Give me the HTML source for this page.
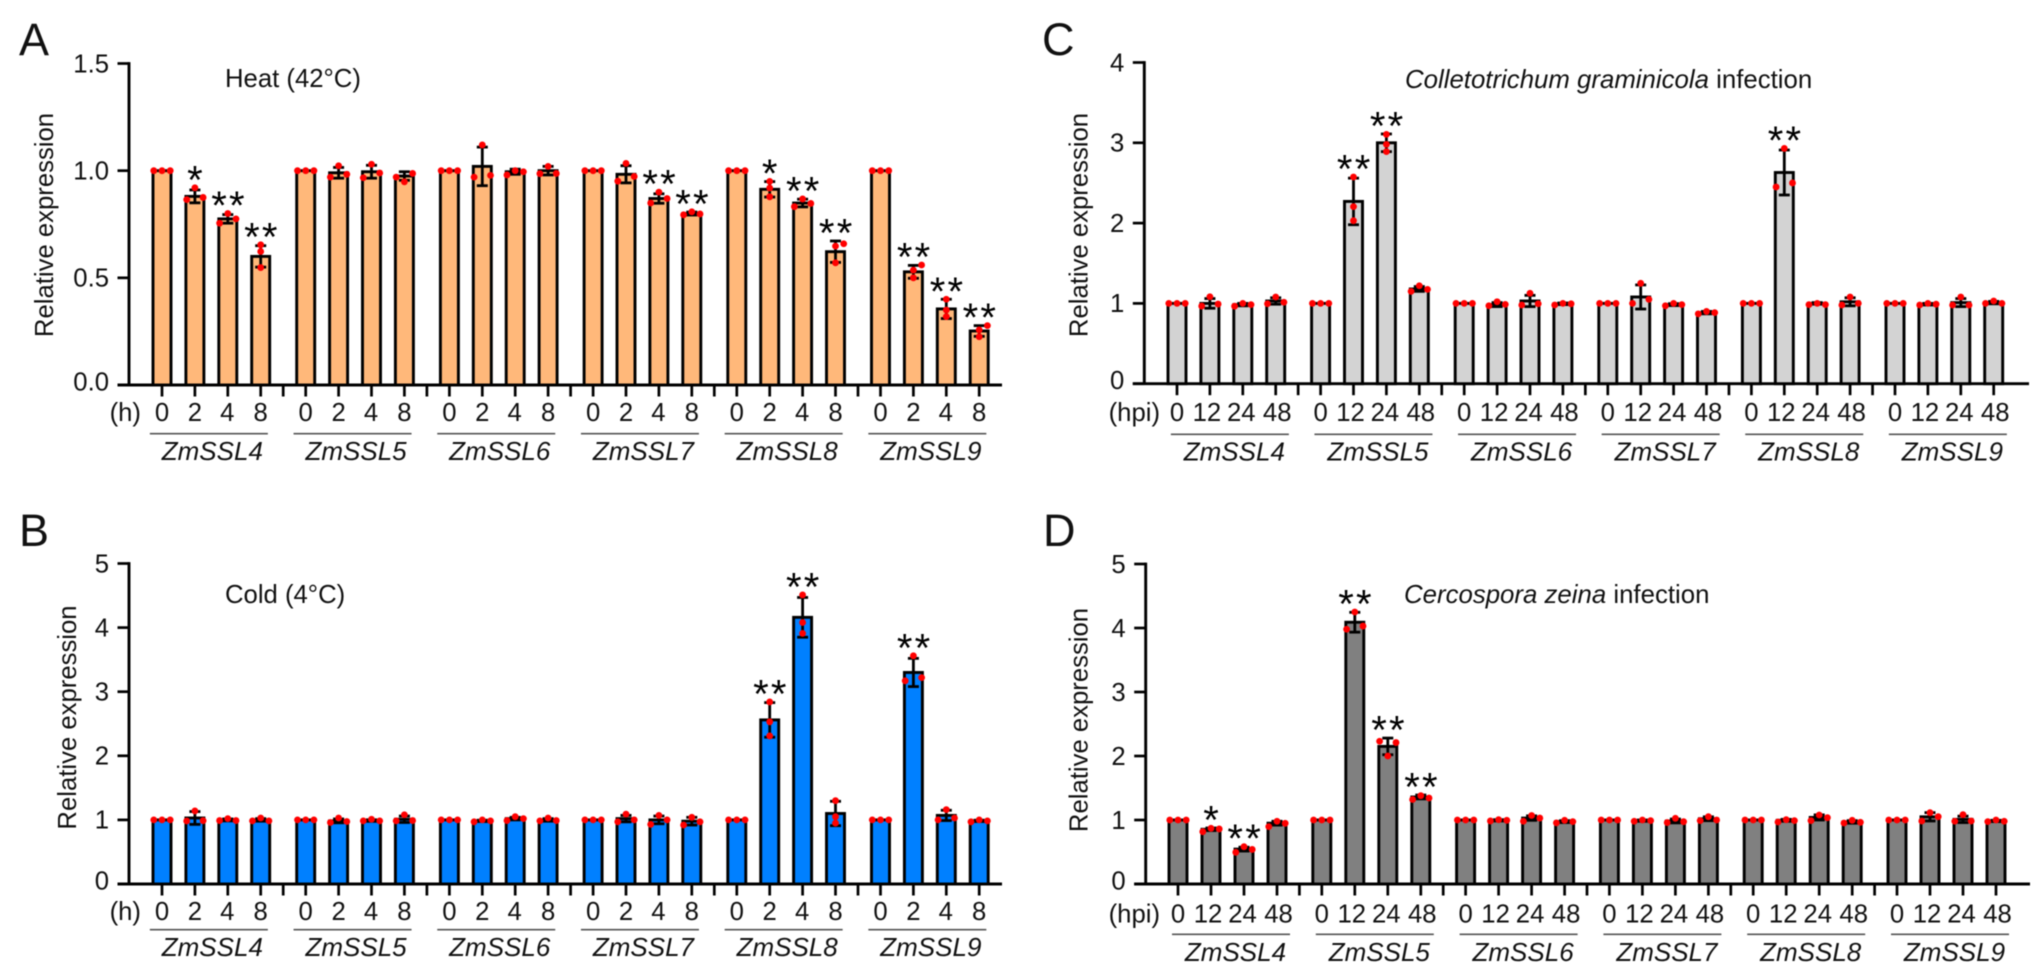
<!DOCTYPE html>
<html lang="en">
<head>
<meta charset="utf-8">
<title>Relative expression of ZmSSL genes under stress</title>
<style>
html,body{margin:0;padding:0;background:#fff;}
svg{display:block;font-family:"Liberation Sans",Arial,sans-serif;fill:#111;filter:blur(0.4px);}
</style>
</head>
<body>
<svg id="figure" xmlns="http://www.w3.org/2000/svg" width="2040" height="974" viewBox="0 0 2040 974">
  <rect x="0" y="0" width="2040" height="974" fill="#fff"/>
  <text x="19" y="55" font-size="45">A</text>
  <text x="19" y="546" font-size="45">B</text>
  <text x="1042" y="55" font-size="45">C</text>
  <text x="1043" y="546" font-size="45">D</text>
  <text x="225" y="87" font-size="25.7">Heat (42°C)</text>
  <text x="225" y="603" font-size="25.7">Cold (4°C)</text>
  <text x="1405" y="88" font-size="25.8"><tspan font-style="italic">Colletotrichum graminicola</tspan> infection</text>
  <text x="1404" y="603" font-size="25.8"><tspan font-style="italic">Cercospora zeina</tspan> infection</text>
</svg>
<script>
const genes = ['ZmSSL4','ZmSSL5','ZmSSL6','ZmSSL7','ZmSSL8','ZmSSL9'];
const abioticTimes = ['0','2','4','8'];
const bioticTimes = ['0','12','24','48'];

const heatTicks = [0,0.5,1,1.5];
const heatTickLabels = ['0.0','0.5','1.0','1.5'];
const heatMeans = [1,.88,.775,.60, 1,.99,.995,.975, 1,1.02,.995,1, 1,.983,.87,.80, 1,.913,.849,.622, 1,.528,.355,.252];
const heatErrors = [0,.03,.02,.05, 0,.025,.03,.02, 0,.09,.012,.02, 0,.04,.022,.007, 0,.036,.018,.05, 0,.03,.045,.025];
const heatDots = [
  [1,1,1],[.865,.92,.875],[.755,.80,.775],[.548,.623,.654],
  [1,1,1],[.97,1.023,.983],[.967,1.03,.989],[.97,.948,.987],
  [1,1,1],[.97,1.12,.978],[.98,1.0,.995],[.986,1.02,.987],
  [1,1,1],[.951,1.034,.973],[.849,.90,.87],[.794,.808,.798],
  [1,1,1],[.878,.919,.95],[.832,.868,.847],[.57,.648,.659],
  [1,1,1],[.50,.536,.56],[.319,.35,.40],[.225,.257,.277]
];
const heatStars = ['','*','**','**', '','','','', '','','','', '','','**','**', '','*','**','**', '','**','**','**'];

const coldTicks = [0,1,2,3,4,5];
const coldTickLabels = ['0','1','2','3','4','5'];
const coldMeans = [1,1.03,1,1, 1,.985,.99,1.01, 1,.985,1.02,1, 1,1.02,1,.98, 1,2.56,4.16,1.1, 1,3.30,1.07,.985];
const coldErrors = [0,.1,.015,.02, 0,.03,.012,.05, 0,.01,.02,.02, 0,.05,.06,.06, 0,.27,.31,.19, 0,.22,.08,.01];
const coldDots = [
  [1,1,1],[.983,1.14,.988],[.99,1.02,.99],[.985,1.03,.985],
  [1,1,1],[.96,1.03,.975],[.985,1.01,.985],[.985,1.08,.99],
  [1,1,1],[.97,1.0,.985],[.99,1.05,1.02],[.985,1.03,.99],
  [1,1,1],[.97,1.09,1.0],[.93,1.07,1.0],[.92,1.04,.97],
  [1,1,1],[2.31,2.53,2.84],[3.91,4.08,4.51],[.95,1.05,1.3],
  [1,1,1],[3.17,3.56,3.22],[1.0,1.16,1.03],[.97,1.0,.985]
];
const coldStars = ['','','','', '','','','', '','','','', '','','','', '','**','**','', '','**','',''];

const colletoTicks = [0,1,2,3,4];
const colletoTickLabels = ['0','1','2','3','4'];
const colletoMeans = [1,1.0,.985,1.03, 1,2.27,3.0,1.18, 1,.985,1.03,.995, 1,1.08,.985,.885, 1,2.63,1,1.02, 1,.99,1.01,1.01];
const colletoErrors = [0,.06,.015,.04, 0,.29,.11,.03, 0,.025,.07,.01, 0,.15,.012,.015, 0,.28,.01,.05, 0,.01,.05,.015];
const colletoDots = [
  [1,1,1],[.967,1.083,.992],[.965,1.0,.985],[.996,1.08,1.014],
  [1,1,1],[2.03,2.205,2.574],[2.89,2.98,3.105],[1.15,1.22,1.175],
  [1,1,1],[.971,1.021,.988],[.98,1.126,.996],[.98,1.0,.995],
  [1,1,1],[1.0,1.25,1.05],[.97,1.0,.985],[.87,.90,.885],
  [1,1,1],[2.45,2.93,2.5],[.985,1.0,.985],[.98,1.08,1.0],
  [1,1,1],[.98,1.0,.99],[.98,1.08,.98],[1.0,1.03,1.0]
];
const colletoStars = ['','','','', '','**','**','', '','','','', '','','','', '','**','','', '','','',''];

const cercoTicks = [0,1,2,3,4,5];
const cercoTickLabels = ['0','1','2','3','4','5'];
const cercoMeans = [1,.855,.545,.95, 1,4.09,2.15,1.36, 1,.995,1.03,.975, 1,.99,.985,1.02, 1,.995,1.04,.97, 1,1.05,1.01,.985];
const cercoErrors = [0,.02,.03,.03, 0,.155,.13,.03, 0,.01,.035,.015, 0,.01,.03,.03, 0,.015,.04,.02, 0,.065,.05,.01];
const cercoDots = [
  [1,1,1],[.817,.87,.86],[.495,.583,.54],[.896,.98,.948],
  [1,1,1],[3.98,4.25,4.03],[2.23,2.0,2.21],[1.32,1.38,1.344],
  [1,1,1],[.985,1.005,.995],[.98,1.07,1.03],[.955,.995,.975],
  [1,1,1],[.98,1.0,.99],[.96,1.026,.974],[.99,1.052,1.0],
  [1,1,1],[.969,1.005,.99],[.99,1.078,1.036],[.953,.995,.964],
  [1,1,1],[.984,1.114,1.052],[.98,1.083,.984],[.975,1.0,.98]
];
const cercoStars = ['','*','**','', '','**','**','**', '','','','', '','','','', '','','','', '','','',''];

const SVGNS = 'http://www.w3.org/2000/svg';
const figure = document.getElementById('figure');

function make(tag, attrs, text) {
  const node = document.createElementNS(SVGNS, tag);
  for (const k in attrs) node.setAttribute(k, attrs[k]);
  if (text !== undefined) node.textContent = text;
  return node;
}

// A replicate sits on the bar centre unless it would overlap a neighbour;
// overlapping replicates spread left / centre / right by their array position.
function dotOffsets(vals, y) {
  const order = vals.map((v, idx) => ({ idx, py: y(v) })).sort((a, b) => b.py - a.py);
  const crowded = [false, false, false];
  for (let k = 0; k + 1 < order.length; k++) {
    if (order[k].py - order[k + 1].py < 6) {
      crowded[order[k].idx] = true;
      crowded[order[k + 1].idx] = true;
    }
  }
  return vals.map((v, idx) => crowded[idx] ? (idx - 1) * 8.2 : 0);
}

function drawPanel(cfg) {
  const root = make('g', {});
  
  
  figure.appendChild(root);

  const yMax = cfg.ticks[cfg.ticks.length - 1];
  const y = v => cfg.y0 - (v / yMax) * (cfg.y0 - cfg.yTop);
  const x = (g, i) => cfg.x0 + g * cfg.groupStep + i * cfg.barStep;
  const ink = '#000';

  const yAxis = make('line', { x1: cfg.axisX, x2: cfg.axisX, y1: y(yMax) - 1.4, y2: cfg.y0, stroke: ink, 'stroke-width': 2.9 });
  
  
  root.appendChild(yAxis);

  const xAxis = make('line', { x1: cfg.axisX - 11.5, x2: cfg.axisEnd, y1: cfg.y0, y2: cfg.y0, stroke: ink, 'stroke-width': 2.9 });
  
  
  root.appendChild(xAxis);

  cfg.ticks.forEach((t, k) => {
    const tick = make('line', { x1: cfg.axisX - 11.5, x2: cfg.axisX, y1: y(t), y2: y(t), stroke: ink, 'stroke-width': 2.7 });
    
    
    root.appendChild(tick);
    const label = make('text', { x: cfg.axisX - 20, y: y(t) + (t === 0 ? 5.5 : 8.8), 'text-anchor': 'end', 'font-size': 25.7 }, cfg.tickLabels[k]);
    
    
    root.appendChild(label);
  });

  const title = make('text', { transform: 'translate(' + cfg.titleX + ' ' + cfg.titleY + ') rotate(-90)', 'text-anchor': 'middle', 'font-size': 25.7 }, 'Relative expression');
  
  
  root.appendChild(title);

  const unit = make('text', { x: cfg.unitX, y: cfg.digitY, 'text-anchor': 'end', 'font-size': 25.7 }, cfg.unit);
  
  
  root.appendChild(unit);

  genes.forEach((gene, g) => {
    const groupCenter = (x(g, 0) + x(g, 3)) / 2;
    const rule = make('line', { x1: groupCenter + cfg.ruleShift - 59, x2: groupCenter + cfg.ruleShift + 59, y1: cfg.lineY, y2: cfg.lineY, stroke: '#555', 'stroke-width': 1.6 });
    
    
    root.appendChild(rule);

    const geneLabel = make('text', { x: groupCenter + cfg.geneShift, y: cfg.geneY, 'text-anchor': 'middle', 'font-size': 26, 'font-style': 'italic' }, gene);
    
    
    root.appendChild(geneLabel);

    if (g < genes.length - 1) {
      const gapX = (x(g, 3) + x(g + 1, 0)) / 2;
      const gapTick = make('line', { x1: gapX, x2: gapX, y1: cfg.y0, y2: cfg.y0 + 11.5, stroke: ink, 'stroke-width': 2.7 });
      
      
      root.appendChild(gapTick);
    }

    cfg.times.forEach((time, i) => {
      const n = g * cfg.times.length + i;
      const cx = x(g, i);
      const mean = cfg.means[n];
      const err = cfg.errors[n];
      const dots = cfg.dots[n];
      const star = cfg.stars[n];

      const xTick = make('line', { x1: cx, x2: cx, y1: cfg.y0, y2: cfg.y0 + 11.5, stroke: ink, 'stroke-width': 2.7 });
      
      
      root.appendChild(xTick);

      const timeLabel = make('text', { x: cx + cfg.labelNudge[i], y: cfg.digitY, 'text-anchor': 'middle', 'font-size': 25.7 }, time);
      
      
      root.appendChild(timeLabel);

      const bar = make('rect', { x: cx - 9, y: y(mean), width: 18, height: cfg.y0 - y(mean), fill: cfg.fill, stroke: ink, 'stroke-width': 2.9 });
      
      
      root.appendChild(bar);

      if (err > 0) {
        const stem = make('line', { x1: cx, x2: cx, y1: y(mean + err), y2: y(mean - err), stroke: ink, 'stroke-width': 2.8 });
        
        
        root.appendChild(stem);
        const capTop = make('line', { x1: cx - 5.5, x2: cx + 5.5, y1: y(mean + err), y2: y(mean + err), stroke: ink, 'stroke-width': 2.8 });
        
        
        root.appendChild(capTop);
        const capLow = make('line', { x1: cx - 5.5, x2: cx + 5.5, y1: y(mean - err), y2: y(mean - err), stroke: ink, 'stroke-width': 2.8 });
        
        
        root.appendChild(capLow);
      }

      const offsets = dotOffsets(dots, y);
      dots.forEach((d, j) => {
        const dot = make('circle', { cx: cx + offsets[j], cy: y(d), r: 3.4, fill: '#ff0000' });
        
        
        root.appendChild(dot);
      });

      if (star) {
        const top = Math.min(y(mean + err), y(Math.max(dots[0], dots[1], dots[2])));
        const mark = make('text', { x: cx + (star.length > 1 ? 1.2 : 0), y: top - 13.5 + 19, 'text-anchor': 'middle', 'font-size': 40, 'letter-spacing': star.length > 1 ? 2.2 : 0, fill: '#000' }, star);
        
        
        root.appendChild(mark);
      }
    });
  });
}

drawPanel({ name: 'panel-a-heat', fill: '#ffb87a', ticks: heatTicks, tickLabels: heatTickLabels, means: heatMeans, errors: heatErrors, dots: heatDots, stars: heatStars, times: abioticTimes,
  x0: 162, groupStep: 143.7, barStep: 32.9, axisX: 129, axisEnd: 1002, y0: 385, yTop: 63.5, titleX: 53, titleY: 225, unit: '(h)', unitX: 141, digitY: 421, lineY: 433.7, geneY: 460, ruleShift: -2.5, geneShift: 1, labelNudge: [0,0,-0.5,0] });

drawPanel({ name: 'panel-b-cold', fill: '#0080ff', ticks: coldTicks, tickLabels: coldTickLabels, means: coldMeans, errors: coldErrors, dots: coldDots, stars: coldStars, times: abioticTimes,
  x0: 162, groupStep: 143.7, barStep: 32.9, axisX: 129, axisEnd: 1002, y0: 884, yTop: 563.5, titleX: 76, titleY: 717.5, unit: '(h)', unitX: 141, digitY: 920, lineY: 929.7, geneY: 956, ruleShift: -2.5, geneShift: 1, labelNudge: [0,0,-0.5,0] });

drawPanel({ name: 'panel-c-colletotrichum', fill: '#d3d3d3', ticks: colletoTicks, tickLabels: colletoTickLabels, means: colletoMeans, errors: colletoErrors, dots: colletoDots, stars: colletoStars, times: bioticTimes,
  x0: 1177, groupStep: 143.6, barStep: 32.9, axisX: 1144.3, axisEnd: 2029, y0: 383.7, yTop: 62.5, titleX: 1087.5, titleY: 225, unit: '(hpi)', unitX: 1160, digitY: 421, lineY: 434.3, geneY: 460.7, ruleShift: 3.5, geneShift: 8, labelNudge: [0,-3,-1.5,1.5] });

drawPanel({ name: 'panel-d-cercospora', fill: '#808080', ticks: cercoTicks, tickLabels: cercoTickLabels, means: cercoMeans, errors: cercoErrors, dots: cercoDots, stars: cercoStars, times: bioticTimes,
  x0: 1178, groupStep: 143.8, barStep: 33, axisX: 1145.7, axisEnd: 2030, y0: 884, yTop: 564, titleX: 1087.5, titleY: 720, unit: '(hpi)', unitX: 1160, digitY: 922.7, lineY: 934.3, geneY: 961, ruleShift: 3.5, geneShift: 8, labelNudge: [0,-3,-1.5,1.5] });
</script>
</body>
</html>
